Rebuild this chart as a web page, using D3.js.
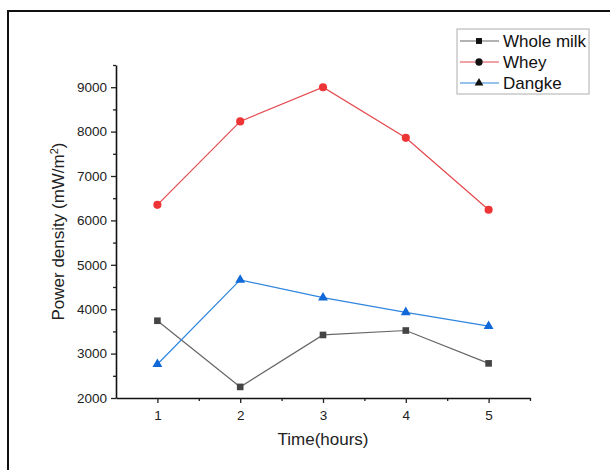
<!DOCTYPE html>
<html>
<head>
<meta charset="utf-8">
<script src="https://cdn.jsdelivr.net/npm/d3@7"></script>
<style>
  body { margin: 0; background: #fff; }
  svg text { font-family: "Liberation Sans", Arial, sans-serif; }
</style>
</head>
<body>
<div id="chart"></div>
<script>
// data
const hours = [1, 2, 3, 4, 5];
const wholeMilk = [3740, 2250, 3420, 3520, 2780];
const whey = [6350, 8230, 9000, 7860, 6240];
const dangke = [2760, 4660, 4260, 3930, 3620];
const seriesNames = ["Whole milk", "Whey", "Dangke"];
const yTicks = [2000, 3000, 4000, 5000, 6000, 7000, 8000, 9000];

const W = 610, H = 470;
const margin = { top: 65, right: 80, bottom: 72, left: 116 };
const width = W - margin.left - margin.right,
  height = H - margin.top - margin.bottom;

const svg = d3.select("#chart").append("svg")
  .attr("width", W).attr("height", H);

// outer frame (runs past the right and bottom edges)
svg.append("rect")
  .attr("x", 8).attr("y", 11)
  .attr("width", 620).attr("height", 480)
  .attr("fill", "none").attr("stroke", "#111").attr("stroke-width", 2);

const g = svg.append("g")
  .attr("transform", `translate(${margin.left},${margin.top})`);

const x = d3.scaleLinear().domain([0.5, 5.5]).range([0, width]);
const y = d3.scaleLinear().domain([2000, 9500]).range([height, 0]);

// minor ticks
g.append("g")
  .attr("transform", `translate(0,${height})`)
  .call(d3.axisBottom(x).tickValues([1.5, 2.5, 3.5, 4.5, 5.5]).tickSize(3).tickFormat(""))
  .call(a => a.select(".domain").remove());
g.append("g")
  .call(d3.axisLeft(y).tickValues(d3.range(2500, 9600, 1000)).tickSize(3).tickFormat(""))
  .call(a => a.select(".domain").remove());

// major axes
const xAxis = g.append("g")
  .attr("transform", `translate(0,${height})`)
  .call(d3.axisBottom(x).tickValues(hours).tickFormat(d3.format("d"))
    .tickSize(5).tickPadding(7).tickSizeOuter(0));
const yAxis = g.append("g")
  .call(d3.axisLeft(y).tickValues(yTicks).tickFormat(d3.format("d"))
    .tickSize(5).tickPadding(4).tickSizeOuter(0));

[xAxis, yAxis].forEach(a => {
  a.selectAll("text").style("font-size", "13.5px").attr("fill", "#222");
  a.select(".domain").attr("stroke", "#111").attr("stroke-width", 1.6);
});
g.selectAll("g line").attr("stroke", "#222").attr("stroke-width", 1.3);

// axis titles
g.append("text")
  .attr("x", width / 2).attr("y", height + 47)
  .attr("text-anchor", "middle")
  .style("font-size", "17px").attr("fill", "#222")
  .text("Time(hours)");

const yt = g.append("text")
  .attr("transform", `translate(${-52},${height / 2}) rotate(-90)`)
  .attr("text-anchor", "middle")
  .style("font-size", "17px").attr("fill", "#222");
yt.append("tspan").text("Power density (mW/m");
yt.append("tspan").attr("dy", -6).style("font-size", "11px").text("2");
yt.append("tspan").attr("dy", 6).text(")");

const series = [
  { name: seriesNames[0], values: wholeMilk, line: "#666", fill: "#444", shape: d3.symbolSquare, size: 44 },
  { name: seriesNames[1], values: whey, line: "#e4474c", fill: "#ee3535", shape: d3.symbolCircle, size: 52 },
  { name: seriesNames[2], values: dangke, line: "#2f86de", fill: "#1168d8", shape: d3.symbolTriangle, size: 42 }
];

const line = d3.line()
  .x((d, i) => x(hours[i]))
  .y(d => y(d));

series.forEach(s => {
  g.append("path")
    .datum(s.values)
    .attr("d", line)
    .attr("fill", "none")
    .attr("stroke", s.line)
    .attr("stroke-width", 1.2);
  g.selectAll(null)
    .data(s.values)
    .enter()
    .append("path")
    .attr("d", d3.symbol().type(s.shape).size(s.size))
    .attr("transform", (d, i) => `translate(${x(hours[i])},${y(d)})`)
    .attr("fill", s.fill);
});

// legend
const legend = svg.append("g").attr("transform", "translate(457,29)");
legend.append("rect")
  .attr("width", 132).attr("height", 65)
  .attr("fill", "#fff").attr("stroke", "#bbb").attr("stroke-width", 1.2);
series.forEach((s, i) => {
  const ly = 12 + 21 * i;
  legend.append("line")
    .attr("x1", 3).attr("x2", 42).attr("y1", ly).attr("y2", ly)
    .attr("stroke", s.line).attr("stroke-width", 1.2);
  legend.append("path")
    .attr("d", d3.symbol().type(s.shape).size(s.size * 0.8))
    .attr("transform", `translate(22,${ly})`)
    .attr("fill", "#111");
  legend.append("text")
    .attr("x", 46).attr("y", ly)
    .attr("dy", "0.35em")
    .style("font-size", "17px").attr("fill", "#111")
    .text(s.name);
});
</script>
</body>
</html>
